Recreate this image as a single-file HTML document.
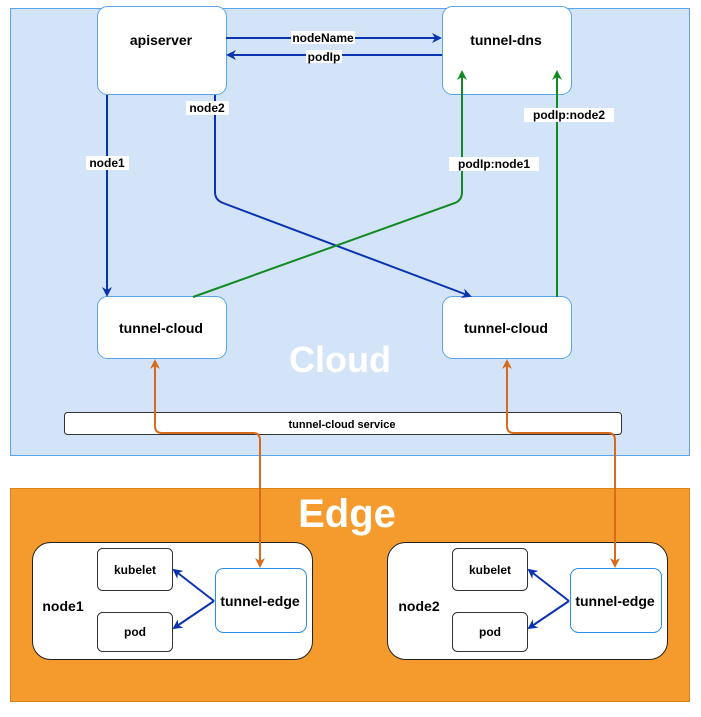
<!DOCTYPE html>
<html><head><meta charset="utf-8"><style>
body{margin:0;background:#fff;}
svg text{font-family:"Liberation Sans",sans-serif;font-weight:bold;}
</style></head><body>
<svg width="701" height="712" viewBox="0 0 701 712" xmlns="http://www.w3.org/2000/svg">
<defs>
<marker id="ab" markerWidth="10" markerHeight="10" refX="8" refY="5" orient="auto" markerUnits="userSpaceOnUse"><path d="M0,0 L10,5 L0,10 L3,5z" fill="#0b33b0"/></marker>
<marker id="ag" markerWidth="10" markerHeight="10" refX="8" refY="5" orient="auto" markerUnits="userSpaceOnUse"><path d="M0,0 L10,5 L0,10 L3,5z" fill="#118a24"/></marker>
<marker id="ao" markerWidth="10" markerHeight="10" refX="8" refY="5" orient="auto" markerUnits="userSpaceOnUse"><path d="M0,0 L10,5 L0,10 L3,5z" fill="#d86a1c"/></marker>
<marker id="aos" markerWidth="10" markerHeight="10" refX="2" refY="5" orient="auto" markerUnits="userSpaceOnUse"><path d="M10,0 L0,5 L10,10 L7,5z" fill="#d86a1c"/></marker>
</defs>
<rect x="10.5" y="8.5" width="679" height="447" fill="#d4e4f8" stroke="#5aa4ec"/>
<rect x="10.5" y="488.5" width="679" height="213" fill="#f59a2c" stroke="#d98418"/>
<text x="340" y="372" font-size="36" fill="#fff" text-anchor="middle">Cloud</text>
<text x="347" y="527" font-size="40" fill="#fff" text-anchor="middle">Edge</text>
<g fill="#fff" stroke="#5aa4ec">
<rect x="97.5" y="6.5" width="129" height="88" rx="10"/>
<rect x="442.5" y="6.5" width="129" height="88" rx="10"/>
<rect x="97.5" y="296.5" width="129" height="62" rx="10"/>
<rect x="442.5" y="296.5" width="129" height="62" rx="10"/>
</g>
<rect x="64.5" y="412.5" width="557" height="22" rx="3" fill="#fff" stroke="#333"/>
<text x="342" y="428" font-size="11" text-anchor="middle">tunnel-cloud service</text>
<g font-size="14" text-anchor="middle">
<text x="161" y="45">apiserver</text><text x="506" y="45">tunnel-dns</text>
<text x="161" y="333">tunnel-cloud</text><text x="506" y="333">tunnel-cloud</text>
</g>
<g fill="none" stroke-width="2">
<path d="M226,38 H440" stroke="#0b33b0" marker-end="url(#ab)"/>
<path d="M442,55 H228" stroke="#0b33b0" marker-end="url(#ab)"/>
<path d="M107,95 V295" stroke="#0b33b0" marker-end="url(#ab)"/>
<path d="M215,95 V192 Q215,200 223,203 L470,296" stroke="#0b33b0" marker-end="url(#ab)"/>
<path d="M193,297 L455,203 Q462,200 462,192 V72" stroke="#118a24" marker-end="url(#ag)"/>
<path d="M557,297 V72" stroke="#118a24" marker-end="url(#ag)"/>
</g>
<g font-size="12" text-anchor="middle">
<rect x="291" y="31" width="64" height="13" fill="#fff"/><text x="323" y="42">nodeName</text>
<rect x="306" y="50" width="36" height="13" fill="#fff"/><text x="324" y="61">podIp</text>
<rect x="186" y="101" width="43" height="14" fill="#fff"/><text x="207" y="112">node2</text>
<rect x="86" y="156" width="43" height="14" fill="#fff"/><text x="107" y="167">node1</text>
<rect x="449" y="157" width="90" height="14" fill="#fff"/><text x="494" y="168">podIp:node1</text>
<rect x="524" y="108" width="90" height="14" fill="#fff"/><text x="569" y="119">podIp:node2</text>
</g>
<g>
<rect x="32.5" y="542.5" width="280" height="117" rx="18" fill="#fff" stroke="#222"/>
<rect x="387.5" y="542.5" width="280" height="117" rx="18" fill="#fff" stroke="#222"/>
<g fill="#fff" stroke="#333">
<rect x="97.5" y="548.5" width="75" height="42" rx="5"/><rect x="97.5" y="612.5" width="75" height="39" rx="5"/>
<rect x="452.5" y="548.5" width="75" height="42" rx="5"/><rect x="452.5" y="612.5" width="75" height="39" rx="5"/>
</g>
<g fill="#fff" stroke="#2a8ee6">
<rect x="215.5" y="568.5" width="91" height="64" rx="8"/><rect x="570.5" y="568.5" width="91" height="64" rx="8"/>
</g>
<g font-size="12" text-anchor="middle">
<text x="135" y="574">kubelet</text><text x="135" y="636">pod</text>
<text x="490" y="574">kubelet</text><text x="490" y="636">pod</text>
</g>
<g font-size="14" text-anchor="middle">
<text x="260" y="606">tunnel-edge</text><text x="615" y="606">tunnel-edge</text>
<text x="63" y="611">node1</text><text x="419" y="611">node2</text>
</g>
<g fill="none" stroke="#0b33b0" stroke-width="2">
<path d="M214,601 L174,570" marker-end="url(#ab)"/><path d="M214,601 L174,628" marker-end="url(#ab)"/>
<path d="M569,601 L529,570" marker-end="url(#ab)"/><path d="M569,601 L529,628" marker-end="url(#ab)"/>
</g>
</g>
<g fill="none" stroke-width="2">
<path d="M260,566 V440 Q260,433 253,433 H162 Q155,433 155,426 V361" stroke="#d86a1c" marker-end="url(#ao)" marker-start="url(#aos)"/>
<path d="M615,566 V440 Q615,433 608,433 H514 Q507,433 507,426 V361" stroke="#d86a1c" marker-end="url(#ao)" marker-start="url(#aos)"/>
</g>
</svg>
</body></html>
